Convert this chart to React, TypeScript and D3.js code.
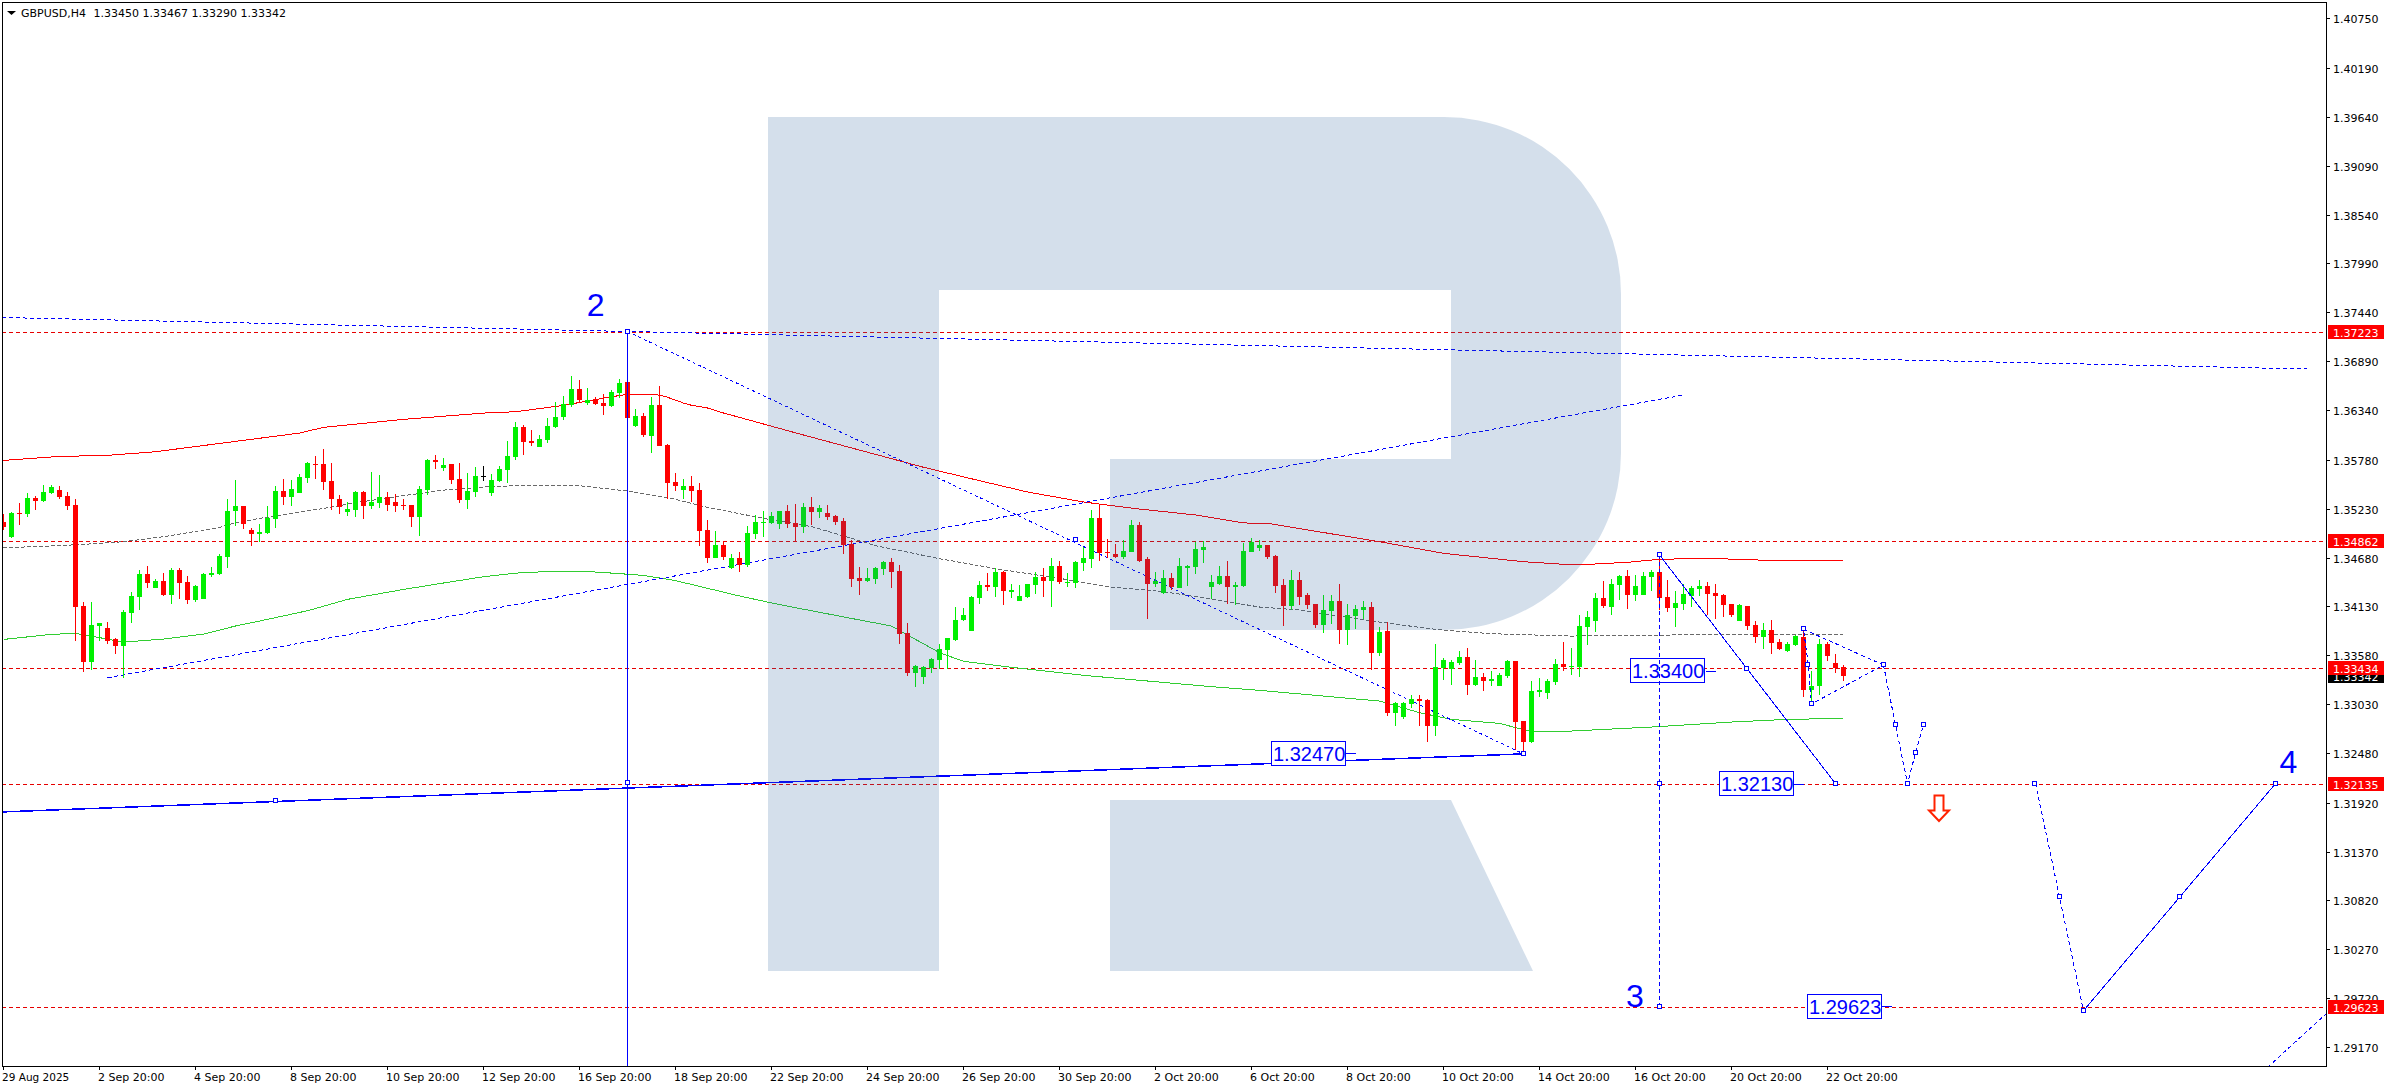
import React from "react";
import * as d3 from "d3";

// Prices are in points (1e-5 of a dollar).
const opens = [
135079,134910,135177,135169,135349,135316,135406,135439,135372,135271,
134134,133503,133909,133886,133762,133683,134055,134235,134494,134336,
134415,134257,134539,134404,134201,134212,134483,134494,134685,135203,
135259,134989,134944,134955,135113,135428,135361,135406,135575,135732,
135732,135541,135338,135192,135214,135417,135259,135293,135361,135304,
135271,135271,135136,135439,135777,135687,135732,135563,135327,135417,
135595,135406,135541,135665,135811,136149,135991,135923,136002,136149,
136261,136396,136576,136419,136464,136419,136385,136531,136655,136161,
136273,136048,136397,135947,135530,135440,135485,135440,134990,134675,
134821,134562,134675,134596,134945,135073,135069,135058,135204,135069,
135024,135249,135193,135181,135148,135091,134832,134450,134416,134438,
134551,134630,134528,133831,133380,133335,133437,133527,133639,133752,
133977,133853,134225,134371,134348,134517,134292,134191,134236,134371,
134461,134416,134585,134393,134393,134619,134664,135125,134742,134720,
134686,134742,135046,134664,134382,134281,134450,134337,134562,134573,
134765,134348,134382,134472,134348,134360,134742,134787,134821,134697,
134370,134134,134427,134258,134156,133920,134078,134190,133864,134021,
134089,134123,133605,133852,132929,132884,133031,133087,133076,132783,
133436,133425,133492,133560,133245,133335,133290,133233,133346,133515,
132839,132603,133166,133155,133278,133481,133447,133447,133897,133965,
134224,134123,134370,134472,134258,134258,134460,134517,134235,134111,
134156,134246,134325,134359,134280,134258,134156,133965,134134,133920,
133785,133864,133729,133627,133695,133785,133188,133233,133706,133492,
133450,
];
const highs = [
135169,135188,135289,135402,135372,135496,135492,135484,135413,135338,
134179,134179,133946,133954,133770,134089,134291,134539,134584,134438,
134505,134561,134561,134471,134370,134505,134573,134719,135338,135552,
135259,135012,135057,135259,135484,135563,135552,135620,135758,135822,
135901,135743,135383,135304,135428,135428,135642,135608,135417,135394,
135338,135271,135484,135788,135833,135800,135732,135743,135631,135698,
135710,135620,135710,135991,136205,136171,136115,136059,136250,136430,
136498,136723,136678,136588,136486,136520,136565,136689,137230,136352,
136307,136487,136611,135958,135632,135564,135598,135519,135103,134979,
134866,134720,134742,135035,135159,135204,135193,135204,135271,135283,
135294,135361,135271,135271,135159,135125,134877,134573,134562,134573,
134641,134675,134596,133943,133470,133459,133549,133707,133774,134123,
134112,134247,134416,134506,134562,134528,134382,134371,134382,134517,
134562,134675,134641,134506,134641,134799,135215,135271,134889,134832,
134877,135103,135080,134686,134517,134540,134506,134675,134596,134855,
134866,134483,134585,134641,134405,134844,134900,134877,134821,134708,
134438,134539,134517,134280,134156,134258,134258,134382,134156,134145,
134190,134179,133897,133954,133053,133053,133132,133132,133087,133706,
133549,133526,133627,133661,133526,133380,133402,133380,133526,133515,
132839,133290,133323,133312,133537,133729,133661,134033,134078,134280,
134415,134438,134483,134539,134483,134517,134539,134708,134427,134303,
134382,134359,134427,134404,134382,134269,134156,134156,134134,133965,
133943,133976,133762,133729,133807,133875,133402,133762,133729,133594,
133467,
];
const lows = [
134989,134903,135045,135136,135214,135308,135398,135338,135214,133740,
133391,133413,133740,133706,133593,133323,133942,134089,134336,134336,
134246,134156,134212,134156,134179,134212,134460,134483,134561,135034,
135000,134809,134854,134944,135012,135271,135259,135406,135518,135563,
135439,135214,135169,135147,135136,135113,135226,135237,135203,135192,
135214,135023,134922,135383,135676,135653,135507,135293,135226,135361,
135541,135372,135530,135518,135777,135833,135935,135923,135969,136137,
136227,136374,136419,136396,136396,136284,136374,136475,136190,136149,
136037,135857,135935,135339,135429,135339,135305,134810,134619,134675,
134652,134551,134517,134573,134889,134911,135058,135001,135013,134855,
134956,135046,135125,135103,135046,134720,134348,134258,134405,134382,
134483,134337,133707,133346,133223,133256,133380,133425,133425,133740,
133966,133853,134157,134303,134236,134146,134225,134191,134225,134270,
134236,134123,134382,134348,134337,134528,134562,134641,134675,134675,
134664,134742,134630,133988,134348,134270,134315,134337,134360,134495,
134619,134213,134371,134157,134146,134348,134742,134754,134663,134280,
133909,134089,134145,134100,133886,133830,133931,133706,133695,133875,
133988,133413,133571,132896,132783,132862,132986,132783,132603,132670,
133301,133245,133470,133132,133233,133177,133233,133233,133323,132513,
132479,132592,133110,133087,133245,133402,133357,133335,133695,133841,
134111,134033,134201,134100,134190,134258,134303,134089,134066,133897,
134089,134123,134246,134033,133988,134010,134010,133965,133864,133717,
133650,133594,133639,133616,133684,133110,133031,133132,133515,133380,
133290,
];
const closes = [
135019,135181,135173,135349,135316,135417,135473,135361,135259,134122,
133503,133920,133942,133740,133683,134066,134246,134494,134393,134415,
134257,134539,134393,134201,134359,134494,134505,134696,135203,135259,
135057,134944,134967,135124,135428,135361,135451,135586,135743,135721,
135530,135338,135248,135226,135417,135259,135304,135361,135271,135259,
135263,135136,135451,135777,135755,135721,135552,135327,135428,135597,
135595,135552,135676,135822,136149,135980,135969,136014,136160,136261,
136408,136576,136453,136453,136408,136385,136543,136644,136250,136273,
136059,136397,135935,135519,135485,135485,135429,134979,134675,134821,
134686,134675,134596,134956,135080,135080,135148,135204,135058,135024,
135249,135193,135238,135136,135080,134821,134438,134416,134450,134562,
134630,134517,133819,133380,133459,133448,133538,133650,133774,133977,
134033,134236,134371,134348,134517,134303,134315,134247,134382,134461,
134416,134585,134405,134408,134630,134675,135125,134731,134731,134686,
134754,135046,134641,134382,134416,134450,134348,134585,134585,134776,
134799,134405,134472,134348,134371,134754,134855,134821,134685,134359,
134134,134427,134235,134145,133920,134089,134190,133864,134033,134100,
134123,133605,133841,132929,133042,133042,133087,133064,132783,133447,
133526,133504,133560,133245,133335,133290,133312,133357,133515,132828,
132603,133177,133188,133290,133481,133447,133458,133909,134010,134224,
134134,134382,134472,134258,134359,134472,134517,134224,134111,134168,
134269,134337,134359,134269,134246,134145,134033,134145,133909,133785,
133864,133717,133650,133706,133796,133188,133233,133706,133571,133436,
133342,
];

const upperBandBars = [0,7,13,19,30,37,40,50,60,64,70,76,78,79,82,83,85,86,88,90,100,115,122,128,135,142,149,155,158,172,180,190,195,199,203,207,213,222,230];
const upperBand = [135773,135818,135830,135871,135999,136081,136145,136235,136306,136321,136393,136490,136516,136517,136509,136484,136419,136394,136363,136307,136059,135696,135545,135418,135305,135226,135159,135069,135065,134858,134727,134633,134604,134607,134626,134660,134671,134644,134649];
const middleBandBars = [0,4,10,15,20,27,29,32,40,44,50,55,60,65,72,75,78,80,84,88,95,101,106,109,117,125,132,138,145,153,157,162,171,179,186,196,206,230];
const middleBand = [134794,134801,134828,134858,134914,135019,135072,135120,135233,135297,135376,135439,135473,135492,135488,135458,135428,135398,135335,135245,135121,135028,134896,134814,134667,134540,134446,134352,134296,134183,134123,134089,133965,133871,133822,133796,133807,133815];
const lowerBandBars = [0,6,9,13,15,20,25,29,32,38,43,50,55,60,65,72,76,80,84,92,97,107,111,113,117,120,126,135,143,151,157,172,177,181,187,191,196,206,216,223,230];
const lowerBand = [133758,133815,133826,133762,133728,133762,133818,133909,133965,134081,134209,134321,134393,134464,134513,134528,134505,134479,134420,134247,134150,133977,133909,133808,133609,133512,133444,133354,133290,133226,133185,133064,132933,132858,132813,132719,132727,132772,132828,132858,132869];

const redLevels = [137223, 134862, 133434, 132135, 129623];
const redLevelLabels = ["1.37223", "1.34862", "1.33434", "1.32135", "1.29623"];
const lastPrice = 133342;
const lastPriceLabel = "1.33342";

const priceTicks = [140750,140190,139640,139090,138540,137990,137440,136890,136340,135780,135230,134680,134130,133580,133030,132480,131920,131370,130820,130270,129720,129170];
const priceTickLabels = ["1.40750","1.40190","1.39640","1.39090","1.38540","1.37990","1.37440","1.36890","1.36340","1.35780","1.35230","1.34680","1.34130","1.33580","1.33030","1.32480","1.31920","1.31370","1.30820","1.30270","1.29720","1.29170"];
const timeTickBars = [0,12,24,36,48,60,72,84,96,108,120,132,144,156,168,180,192,204,216,228];
const timeTickLabels = ["29 Aug 2025","2 Sep 20:00","4 Sep 20:00","8 Sep 20:00","10 Sep 20:00","12 Sep 20:00","16 Sep 20:00","18 Sep 20:00","22 Sep 20:00","24 Sep 20:00","26 Sep 20:00","30 Sep 20:00","2 Oct 20:00","6 Oct 20:00","8 Oct 20:00","10 Oct 20:00","14 Oct 20:00","16 Oct 20:00","20 Oct 20:00","22 Oct 20:00"];

// Drawn analysis objects, as [bar, price]
const longDownLine = [[-0.2,137382],[288,136802]];
const longUpLine = [[13,133327],[210,136509]];
const waveTwoToBottom = [[78,137223],[190,132470]];
const solidBaseLine = [[-0.5,131815],[190,132470]];
const waveTopToTarget = [[207,134708],[229,132135]];
const waveThreeDrop = [[207,134708],[207,129623]];
const triangleOuter = [[225,133872],[235,133470],[226,133031],[225.6,133470],[225,133872]];
const forecastDown = [[235,133470],[236.5,132795],[238,132135],[239,132479],[240,132795]];
const forecastDrop = [[254,132135],[257,130862],[260,129579]];
const forecastRise = [[260,129579],[272,130855],[284,132135]];
const cornerLine = [[283,128941],[291,129598]];
const markers = [[78,137223],[190,132470],[34,131935],[78,132147],[134,134877],[207,134708],[218,133420],[229,132135],[207,132135],[207,129623],[225,133872],[225.6,133470],[226,133031],[235,133470],[236.5,132795],[238,132135],[239,132479],[240,132795],[254,132135],[257,130862],[260,129579],[272,130855],[284,132135]];

const boxTexts = ["1.33400","1.32470","1.32130","1.29623"];
const boxBars = [218,190,229,260];
const boxPrices = [133400,132470,132130,129623];
const boxOffsets = [-42,-178,-42,-202];
const waveLabels = ["2","3","4"];
const waveBars = [72.9,202.8,284.5];
const wavePrices = [137400,129623,132260];

const W = 2390, H = 1090;
const L = 2, T = 2, R = 2326, B = 1066;
const FONT = "'DejaVu Sans', sans-serif";
const BLUE = "#0000ff", RED = "#ff0000", GREEN = "#00f000";

const x = d3.scaleLinear().domain([0, 288]).range([3.5, 3.5 + 8 * 288]);
const y = d3.scaleLinear().domain([129170, 140750]).range([1047, 18.3]);
const path = d3.line<number[]>().x((d) => x(d[0])).y((d) => y(d[1]));
const zip = (a: number[], b: number[]) => a.map((v, k) => [v, b[k]]);

const logoPath = "M768 117H1444A177 177 0 0 1 1621 294V453A177 177 0 0 1 1444 630H1110V459H1451V290H939V971H768Z M1110 800H1451L1533 971H1110Z";

function Blue({ pts, dash, w = 1 }: { pts: number[][]; dash?: string; w?: number }) {
  return <path d={path(pts) as string} fill="none" stroke={BLUE} strokeWidth={w} strokeDasharray={dash} shapeRendering="crispEdges" />;
}

export default function App() {
  const snap = (v: number) => Math.round(v);
  return (
    <svg width={W} height={H} viewBox={`0 0 ${W} ${H}`} style={{ position: "absolute", left: 0, top: 0, background: "#fff", display: "block" }}>
      <defs>
        <clipPath id="plot"><rect x={L} y={T} width={R - L} height={B - T} /></clipPath>
      </defs>
      <g clipPath="url(#plot)">
        {redLevels.map((p) => (
          <line key={p} x1={L} x2={R} y1={snap(y(p)) + 0.5} y2={snap(y(p)) + 0.5} stroke="#e60000" strokeDasharray="4,3" shapeRendering="crispEdges" />
        ))}
        <path d={path(zip(upperBandBars, upperBand)) as string} fill="none" stroke={RED} shapeRendering="crispEdges" />
        <path d={path(zip(middleBandBars, middleBand)) as string} fill="none" stroke="#696969" strokeDasharray="4,2" shapeRendering="crispEdges" />
        <path d={path(zip(lowerBandBars, lowerBand)) as string} fill="none" stroke="#32cd32" shapeRendering="crispEdges" />

        <Blue pts={longDownLine} dash="4,3" />
        <Blue pts={longUpLine} dash="4,3" />
        <Blue pts={waveTwoToBottom} dash="3,3" />
        <Blue pts={solidBaseLine} w={1.5} />

        <g shapeRendering="crispEdges">
          {opens.map((o, i) => {
            const c = closes[i];
            const color = c > o ? GREEN : c < o ? RED : "#000";
            const cx = x(i);
            const top = snap(y(Math.max(o, c)));
            const bot = snap(y(Math.min(o, c)));
            return (
              <g key={i}>
                <line x1={cx} x2={cx} y1={y(highs[i])} y2={y(lows[i])} stroke={color} />
                <rect x={cx - 2.5} y={top} width={5} height={Math.max(1, bot - top)} fill={color} />
              </g>
            );
          })}
        </g>

        {/* vertical wave marker */}
        <line x1={x(78)} x2={x(78)} y1={y(137223)} y2={B} stroke={BLUE} shapeRendering="crispEdges" />
        <Blue pts={waveTopToTarget} />
        <Blue pts={triangleOuter} dash="4,3" />
        <Blue pts={forecastDown} dash="4,3" />
        <Blue pts={forecastDrop} dash="4,3" />
        <Blue pts={forecastRise} />
        <Blue pts={cornerLine} dash="4,3" />

        {boxTexts.map((t, k) => {
          const ax = x(boxBars[k]);
          const cy = y(boxPrices[k]);
          const right = ax + boxOffsets[k];
          return (
            <g key={t}>
              <line x1={right} x2={right + 10} y1={cy} y2={cy} stroke={BLUE} shapeRendering="crispEdges" />
              <rect x={Math.round(right) - 74.5} y={Math.round(cy) - 12.5} width={74} height={24} fill="#fff" stroke={BLUE} shapeRendering="crispEdges" />
              <text x={Math.round(right) - 73} y={cy + 7} fill={BLUE} fontFamily="'Liberation Sans', sans-serif" fontSize={20}>{t}</text>
            </g>
          );
        })}
        <Blue pts={waveThreeDrop} dash="4,3" />

        {markers.map((m, k) => (
          <rect key={k} x={Math.round(x(m[0])) - 2.5} y={Math.round(y(m[1])) - 2.5} width={4} height={4} fill="#fff" stroke={BLUE} shapeRendering="crispEdges" />
        ))}

        {waveLabels.map((t, k) => (
          <text key={t} x={x(waveBars[k])} y={y(wavePrices[k])} fill={BLUE} fontFamily="'Liberation Sans', sans-serif" fontSize={32}>{t}</text>
        ))}

        <path d="M1934.5 795.5H1943.5V810.5H1949L1939 821L1929 810.5H1934.5Z" fill="#fff" stroke="#ff2200" strokeWidth={2} />

        <path d={logoPath} fill="rgb(40,95,155)" fillOpacity={0.2} fillRule="evenodd" />

        {/* header */}
        <path d="M7 11H16L11.5 15Z" fill="#000" />
        <text x={21} y={16.5} fontFamily={FONT} fontSize={11} fill="#000">GBPUSD,H4</text>
        <text x={93.5} y={16.5} fontFamily={FONT} fontSize={11} fill="#000">1.33450 1.33467 1.33290 1.33342</text>
      </g>

      <rect x={L + 0.5} y={T + 0.5} width={R - L} height={B - T} fill="none" stroke="#000" shapeRendering="crispEdges" />

      {priceTicks.map((p, k) => {
        const yy = Math.round(y(p));
        return (
          <g key={p}>
            <line x1={R} x2={R + 4} y1={yy + 0.5} y2={yy + 0.5} stroke="#000" shapeRendering="crispEdges" />
            <text x={2333} y={yy + 4.5} fontFamily={FONT} fontSize={11} fill="#000">{priceTickLabels[k]}</text>
          </g>
        );
      })}
      {timeTickBars.map((b, k) => (
        <g key={b}>
          <line x1={x(b)} x2={x(b)} y1={B} y2={B + 4} stroke="#000" shapeRendering="crispEdges" />
          <text x={x(b) - 1.5} y={1081} fontFamily={FONT} fontSize={k === 0 ? 10.5 : 11} fill="#000">{timeTickLabels[k]}</text>
        </g>
      ))}

      {/* price tags */}
      <rect x={2328} y={Math.round(y(lastPrice)) - 7} width={56} height={14} fill="#000" />
      <text x={2333} y={Math.round(y(lastPrice)) + 4.5} fontFamily={FONT} fontSize={11} fill="#fff">{lastPriceLabel}</text>
      {redLevels.map((p, k) => {
        const yy = Math.round(y(p));
        return (
          <g key={p}>
            <rect x={2328} y={yy - 7} width={56} height={14} fill={RED} />
            <text x={2333} y={yy + 4.5} fontFamily={FONT} fontSize={11} fill="#fff">{redLevelLabels[k]}</text>
          </g>
        );
      })}
    </svg>
  );
}
